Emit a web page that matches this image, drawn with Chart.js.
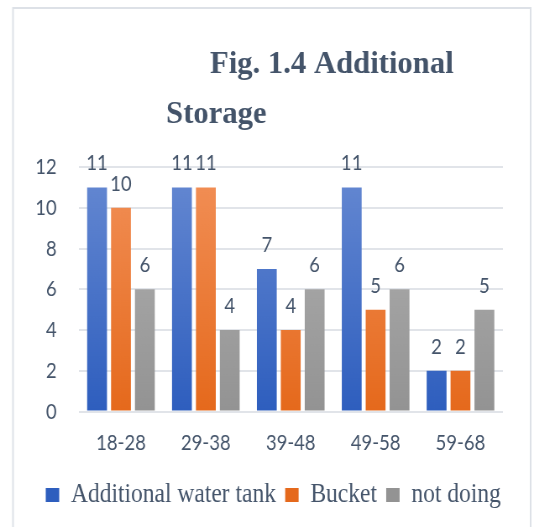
<!DOCTYPE html>
<html>
<head>
<meta charset="utf-8">
<script src="https://cdn.jsdelivr.net/npm/chart.js@4/dist/chart.umd.min.js"></script>
<style>
  html, body { margin: 0; padding: 0; background: #ffffff; overflow: hidden; }
  #wrap { position: relative; width: 534px; height: 527px; overflow: hidden; }
  /* the figure uses condensed lettering: draw wide, then squeeze horizontally */
  #chart { transform: scaleX(0.8396); transform-origin: 0 0; }
</style>
</head>
<body>
<div id="wrap"><canvas id="chart" width="636" height="527"></canvas></div>
<script>
// Age groups and counts per storage method
const categories = ['18-28', '29-38', '39-48', '49-58', '59-68'];
const tankValues = [11, 11, 7, 11, 2];
const bucketValues = [10, 11, 4, 5, 2];
const notDoingValues = [6, 4, 6, 6, 5];
const seriesNames = ['Additional water tank', 'Bucket', 'not doing'];
const titleLines = ['Fig. 1.4 Additional', 'Storage'];

const textColor = '#44546A';
const sansFont = 'Lato, "Open Sans", sans-serif';
const serifFont = '"Liberation Serif", "DejaVu Serif", serif';

// Vertical shading for each series
const shades = [
  ['#6689D2', '#2E5EBE'],
  ['#F29058', '#E5691C'],
  ['#B3B3B3', '#939393']
];
function shaded(idx) {
  return function (ctx) {
    const chart = ctx.chart;
    const area = chart.chartArea;
    if (!area) return shades[idx][1];
    const y0 = chart.scales.y.getPixelForValue(12);
    const g = chart.ctx.createLinearGradient(0, y0, 0, area.bottom);
    g.addColorStop(0, shades[idx][0]);
    g.addColorStop(1, shades[idx][1]);
    return g;
  };
}

// Outer frame, two-line heading, and a small rightward nudge of the legend row
const framePlugin = {
  id: 'frame',
  afterLayout(chart) {
    if (chart.legend) {
      chart.legend.left += 18;
      chart.legend.right += 18;
    }
  },
  beforeDraw(chart) {
    const c = chart.ctx;
    c.save();
    c.strokeStyle = '#DDE1E7';
    c.lineWidth = 2;
    c.beginPath();
    c.moveTo(15.5, 530);
    c.lineTo(15.5, 8);
    c.lineTo(632, 8);
    c.lineTo(632, 530);
    c.stroke();
    c.restore();
  },
  afterDraw(chart) {
    const c = chart.ctx;
    c.save();
    // heading letters are wider than the rest of the lettering
    c.scale(1.124, 1);
    c.fillStyle = textColor;
    c.textBaseline = 'alphabetic';
    c.textAlign = 'left';
    c.font = 'bold 32.5px ' + serifFont;
    c.fillText(titleLines[0], 222.5, 73);
    c.fillText(titleLines[1], 176, 123);
    c.restore();
  }
};

// Value labels above each bar
const valueLabels = {
  id: 'valueLabels',
  afterDatasetsDraw(chart) {
    const c = chart.ctx;
    c.save();
    c.fillStyle = textColor;
    c.font = '22px ' + sansFont;
    c.textAlign = 'center';
    c.textBaseline = 'middle';
    chart.data.datasets.forEach((ds, di) => {
      chart.getDatasetMeta(di).data.forEach((bar, i) => {
        c.fillText(String(ds.data[i]), bar.x, bar.y - 24);
      });
    });
    c.restore();
  }
};

new Chart(document.getElementById('chart'), {
  type: 'bar',
  data: {
    labels: categories,
    datasets: [
      { label: seriesNames[0], data: tankValues, backgroundColor: shaded(0) },
      { label: seriesNames[1], data: bucketValues, backgroundColor: shaded(1) },
      { label: seriesNames[2], data: notDoingValues, backgroundColor: shaded(2) }
    ]
  },
  options: {
    responsive: false,
    animation: false,
    devicePixelRatio: 1,
    layout: { padding: { left: 16, right: 37, top: 167, bottom: 8 } },
    datasets: {
      bar: { categoryPercentage: 0.845, barPercentage: 0.83 }
    },
    scales: {
      x: {
        grid: { display: false },
        border: { display: false },
        ticks: { color: textColor, font: { family: sansFont, size: 22 }, padding: 10 },
        afterFit(scale) { scale.height += 4; }
      },
      y: {
        min: 0,
        max: 12,
        ticks: { stepSize: 2, color: textColor, font: { family: sansFont, size: 22 }, padding: 26 },
        grid: { color: '#E1E4E9', lineWidth: 2, drawTicks: false },
        border: { display: false }
      }
    },
    plugins: {
      title: { display: false },
      tooltip: { enabled: false },
      legend: {
        position: 'bottom',
        labels: {
          color: textColor,
          font: { family: 'Liberation Serif', size: 28 },
          boxWidth: 16,
          boxHeight: 14,
          padding: 11,
          generateLabels(chart) {
            return chart.data.datasets.map((ds, i) => ({
              text: ds.label,
              fillStyle: shades[i][1],
              strokeStyle: shades[i][1],
              lineWidth: 0,
              datasetIndex: i,
              hidden: false,
              fontColor: textColor
            }));
          }
        }
      }
    }
  },
  plugins: [framePlugin, valueLabels]
});
</script>
</body>
</html>
